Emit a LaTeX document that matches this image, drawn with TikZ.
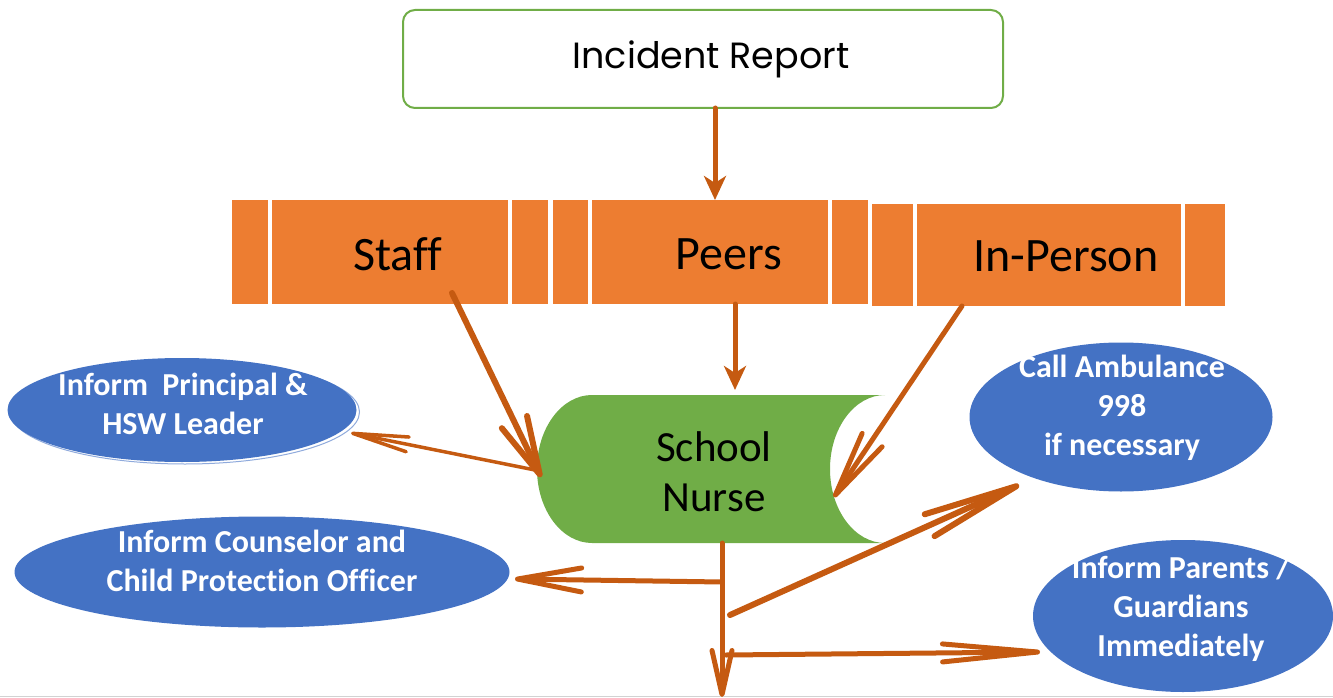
\documentclass[tikz,border=0pt]{standalone}
\usepackage{fontspec}
\setmainfont{Carlito}[Ligatures={NoCommon}]
\newfontfamily\titlefont{Poppins}
\usetikzlibrary{arrows.meta,shapes.geometric,calc}
\definecolor{barorange}{HTML}{ED7D31}
\definecolor{arrowbrown}{HTML}{C55A11}
\definecolor{nursegreen}{HTML}{70AD47}
\definecolor{ellblue}{HTML}{4472C4}
\definecolor{shadowblue}{HTML}{8FAADC}
\begin{document}
\begin{tikzpicture}[x=1pt,y=-1pt,
  seg/.style={fill=barorange, draw=none, inner sep=0pt, anchor=north west},
  bartext/.style={font=\fontsize{48}{52}\selectfont, inner sep=0pt},
  ell/.style={ellipse, fill=ellblue, draw=none, inner sep=0pt},
  elltext/.style={font=\fontsize{32}{39}\selectfont\bfseries, text=white, align=center, inner sep=0pt},
  conn/.style={draw=arrowbrown, line cap=round, line join=round},
  smallhead/.style={-{Stealth[length=24pt,width=22pt,inset=7pt]}},
]
\useasboundingbox (0,0) rectangle (1333,698);

% bottom grey rule
\coordinate (rl) at (0,696);
\coordinate (rr) at (1333,696);
\draw[gray!35, line width=1pt] (rl) -- (rr);

% title box
\node[draw=nursegreen, line width=2pt, rounded corners=12pt, minimum width=600pt, minimum height=98pt,
      font=\titlefont\fontsize{36.5}{42}\selectfont, inner sep=0pt] (inc) at (703,59) {\hspace{16pt}Incident Report};

% orange bar segments
\node[seg, minimum width=36pt, minimum height=104pt] (b1) at (232,200) {};
\node[seg, minimum width=236pt, minimum height=104pt] (staff) at (272,200) {};
\node[seg, minimum width=36pt, minimum height=104pt] (b3) at (512,200) {};
\node[seg, minimum width=35pt, minimum height=104pt] (b4) at (553,200) {};
\node[seg, minimum width=236pt, minimum height=104pt] (peers) at (592,200) {};
\node[seg, minimum width=36pt, minimum height=104pt] (b6) at (832,200) {};
\node[seg, minimum width=41pt, minimum height=102pt] (b7) at (872,204) {};
\node[seg, minimum width=264pt, minimum height=102pt] (inperson) at (917,204) {};
\node[seg, minimum width=40pt, minimum height=102pt] (b9) at (1185,204) {};
\node[bartext] (tstaff) at (398,254) {Staff};
\node[bartext] (tpeers) at (729,254) {Peers};
\node[bartext] (tinp) at (1066,256) {In-Person};

% school nurse shape
\fill[nursegreen] (592,395) -- (885,395) arc[start angle=-90, end angle=-270, x radius=55, y radius=74]
  -- (592,543) arc[start angle=90, end angle=270, x radius=55, y radius=74] -- cycle;
\node[font=\fontsize{43}{50}\selectfont, align=center, inner sep=0pt] (nurse) at (714,472) {School\\Nurse};

% ellipses
\node[ell, fill=white, draw=shadowblue, line width=1pt, minimum width=349pt, minimum height=104pt] (prinsh) at (185,412) {};
\node[ell, minimum width=349pt, minimum height=104pt] (prin) at (182,410) {};
\node[elltext] (tprin) at (183,404) {Inform\ \ Principal \&\\HSW Leader};
\node[ell, minimum width=495pt, minimum height=111pt] (couns) at (262,572) {};
\node[elltext] (tcouns) at (262,561) {Inform Counselor and\\Child Protection Officer};
\node[ell, minimum width=303pt, minimum height=149pt] (amb) at (1121,417) {};
\node[elltext] (tamb) at (1122,408) {Call Ambulance\\998\\if necessary};
\node[ell, minimum width=300pt, minimum height=152pt] (par) at (1183,616) {};
\node[elltext] (tpar) at (1181,609) {Inform Parents /\\Guardians\\Immediately};

% connector end points
\coordinate (incout) at (715,108);
\coordinate (peersout) at (735,304);
\coordinate (nursetop) at (735,390);
\coordinate (staffout) at (452,293);
\coordinate (nurseleft) at (541,477);
\coordinate (inpout) at (962,306);
\coordinate (nurseright) at (834,497);
\coordinate (nursefrom) at (540,471);
\coordinate (printip) at (351,433);
\coordinate (nursebot) at (722,543);
\coordinate (bottip) at (722,697);
\coordinate (jleft) at (722,582);
\coordinate (counstip) at (515,579);
\coordinate (jamb) at (730,615);
\coordinate (ambtip) at (1019,485);
\coordinate (jpar) at (726,655);
\coordinate (partip) at (1040,652);

% connectors
\draw[conn, line width=5pt, smallhead] (incout) -- (incout |- peers.north);
\draw[conn, line width=5pt, smallhead] (peersout) -- (nursetop);
\draw[conn, line width=6pt, -{Straight Barb[length=58pt,width=28pt,round]}] (staffout) -- (nurseleft);
\draw[conn, line width=5pt, -{Straight Barb[length=66pt,width=24pt,round]}] (inpout) -- (nurseright);
\draw[conn, line width=3.5pt, -{Straight Barb[length=56pt,width=15pt,round]}] (nursefrom) -- (printip);
\draw[conn, line width=5pt, -{Straight Barb[length=44pt,width=20pt,round]}] (nursebot) -- (bottip);
\draw[conn, line width=5pt, -{Straight Barb[length=64pt,width=24pt,round]}] (jleft) -- (counstip);
\draw[conn, line width=6pt, -{Straight Barb[length=95pt,width=24pt,round]}] (jamb) -- (ambtip);
\draw[conn, line width=5pt, -{Straight Barb[length=95pt,width=18pt,round]}] (jpar) -- (partip);
\end{tikzpicture}
\end{document}
